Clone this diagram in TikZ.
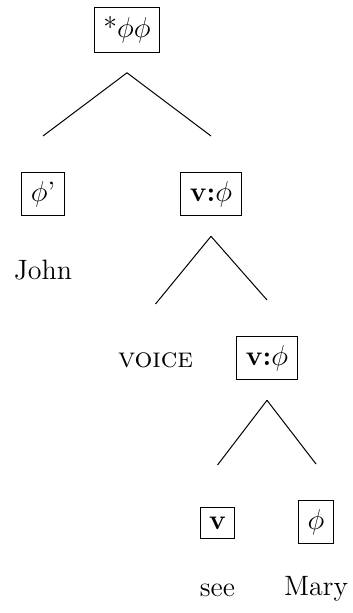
\documentclass[tikz,border=0pt]{standalone}
\usepackage{amsmath,amssymb}
\usepackage{tikz}
\usetikzlibrary{positioning,calc}
\tikzset{
  syn/.style={inner sep=4.5pt,font=\fontsize{14}{17}\selectfont},
  synbox/.style={syn,draw,line width=0.5pt},
  synleaf/.style={syn,text height=9.5pt,text depth=2.7pt},
  synedge/.style={line width=0.5pt},
}
\begin{document}
\begin{tikzpicture}[on grid,node distance=82pt and 42pt]
  \useasboundingbox (0,0) rectangle (176pt,-306.5pt);
  \node[synbox] (S) at (63.5pt,-15pt) {*$\phi\phi$};
  \node[synbox,below left=of S] (Ph) {$\phi$'};
  \node[synbox,below right=of S] (VPa) {\textbf{v:}$\phi$};
  \node[synleaf,below=39.5pt of Ph] (John) {John};
  \node[syn,below left=83pt and 27.75pt of VPa] (Voice) {\textsc{voice}};
  \node[synbox,below right=82pt and 28pt of VPa] (VPb) {\textbf{v:}$\phi$};
  \node[synbox,below left=82.5pt and 24.75pt of VPb] (V) {\textbf{v}};
  \node[synbox,below right=82pt and 24.5pt of VPb] (Obj) {$\phi$};
  \node[synleaf,below=33.5pt of V] (See) {see};
  \node[synleaf,below=33.5pt of Obj] (Mary) {Mary};

  \draw[synedge] ([yshift=-10pt]S.south) -- ([yshift=29pt]Ph.center);
  \draw[synedge] ([yshift=-10pt]S.south) -- ([yshift=29pt]VPa.center);
  \draw[synedge] ([yshift=-10pt]VPa.south) -- ([yshift=28pt]Voice.center);
  \draw[synedge] ([yshift=-10pt]VPa.south) -- ([yshift=29pt]VPb.center);
  \draw[synedge] ([yshift=-10pt]VPb.south) -- ([yshift=29pt]V.center);
  \draw[synedge] ([yshift=-10pt]VPb.south) -- ([yshift=29pt]Obj.center);
\end{tikzpicture}
\end{document}
